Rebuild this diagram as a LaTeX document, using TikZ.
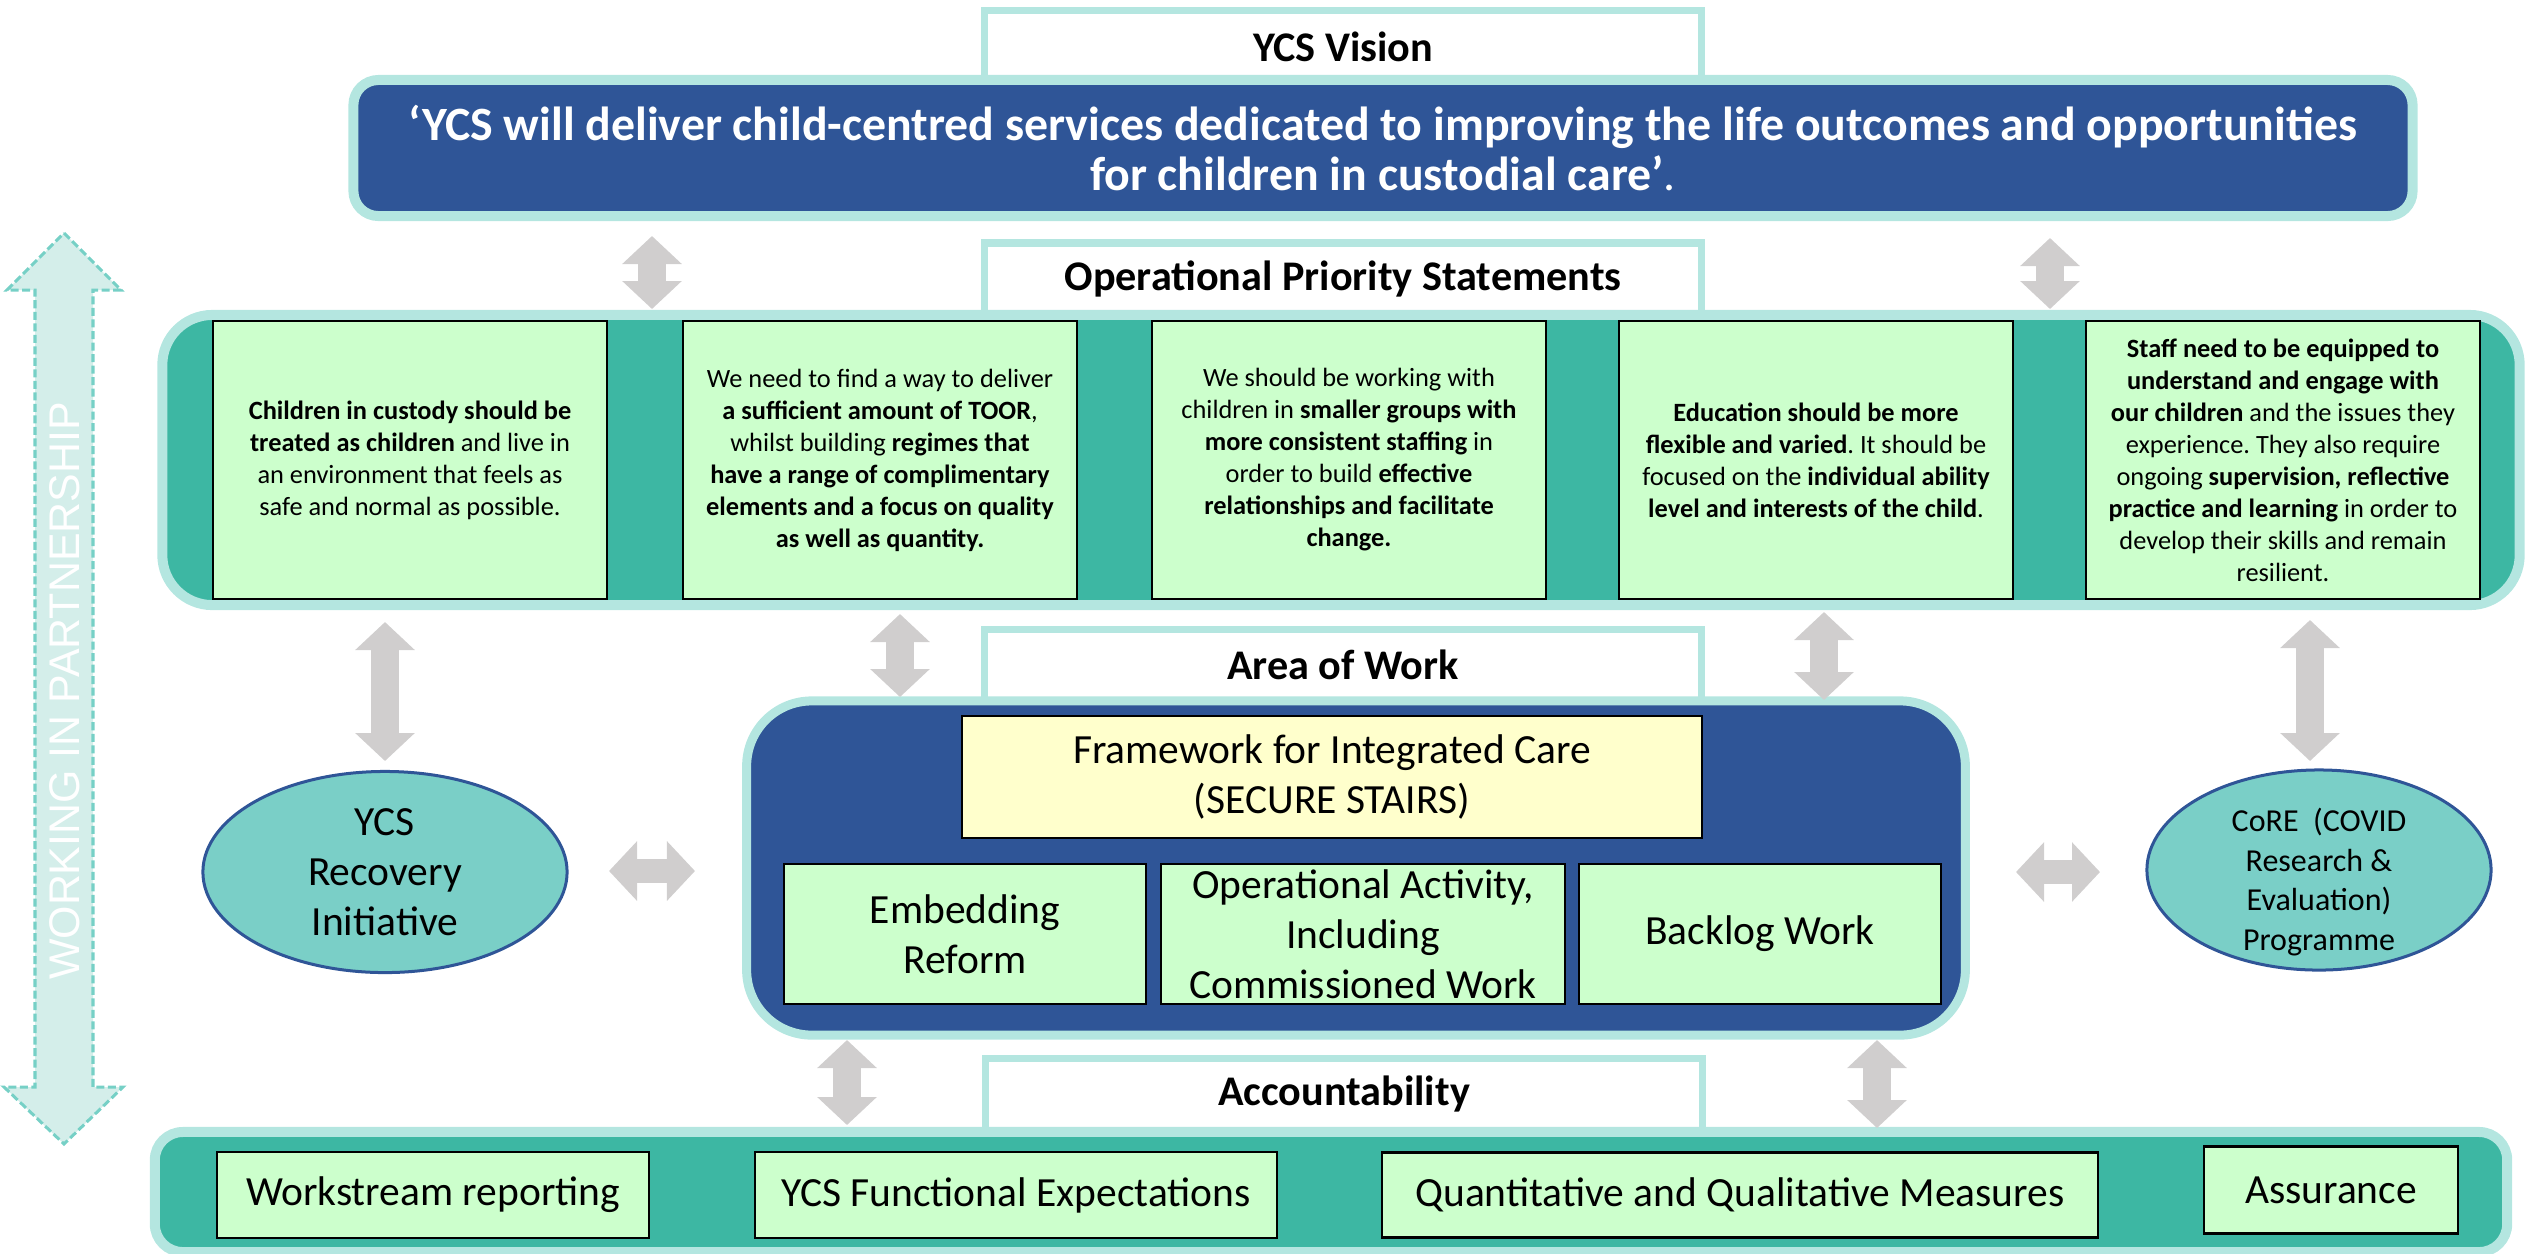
\documentclass[tikz,border=0pt]{standalone}
\usepackage{fontspec}
\setmainfont{Carlito}
\newfontfamily\partnerfont{Liberation Sans}
\usetikzlibrary{arrows.meta,shapes.geometric}
\frenchspacing

\definecolor{navy}{RGB}{47,85,151}
\definecolor{seag}{RGB}{61,183,163}
\definecolor{rimc}{RGB}{180,230,224}
\definecolor{mint}{RGB}{204,255,204}
\definecolor{cream}{RGB}{255,255,204}
\definecolor{lagoon}{RGB}{122,207,199}
\definecolor{greyarr}{RGB}{208,206,206}
\definecolor{pfill}{RGB}{212,238,234}
\definecolor{pline}{RGB}{118,208,198}

\begin{document}
\begin{tikzpicture}[x=0.01cm,y=-0.01cm,
    headbox/.style={draw=rimc,line width=0.7mm,fill=white,minimum width=7.17cm,minimum height=0.72cm,
        font=\bfseries\fontsize{12}{14}\selectfont},
    band/.style={draw=rimc,line width=1mm,inner sep=0pt},
    card/.style={draw=black,line width=0.6pt,fill=mint,inner sep=0pt,align=center},
    stmt/.style={card,minimum width=3.94cm,minimum height=2.77cm,font=\fontsize{7.5}{9.1}\selectfont},
    workbox/.style={card,font=\fontsize{11.8}{14.2}\selectfont},
    bubble/.style={ellipse,draw=navy,line width=0.03cm,fill=lagoon,inner sep=0pt,align=center},
    vlink/.style={draw=greyarr,line width=0.28cm,
        {Triangle[length=0.28cm,width=0.58cm]}-{Triangle[length=0.28cm,width=0.58cm]}},
    hlink/.style={vlink,line width=0.24cm}]
    \useasboundingbox (0,0) rectangle (2526,1253);
    %
    % working in partnership
    \draw[draw=pline,fill=pfill,line width=0.03cm,dash pattern=on 0.08cm off 0.035cm]
        (64,233) -- (121,290) -- (93,290) -- (93,1087) -- (123,1087) -- (64,1144)
        -- (4,1087) -- (35,1087) -- (35,290) -- (7,290) -- cycle;
    \node[rotate=90,text=white,font=\partnerfont\fontsize{12.2}{14}\selectfont] (partner) at (65,691) {WORKING IN PARTNERSHIP};
    %
    % vision
    \node[headbox] (hvision) at (1343,47) {YCS Vision};
    \node[band,fill=navy,rounded corners=0.25cm,minimum width=20.58cm,minimum height=1.36cm,
        text=white,align=center,font=\bfseries\fontsize{13.6}{14.3}\selectfont] (vision) at (1383,148)
        {‘YCS will deliver child-centred services dedicated to improving the life outcomes and opportunities\\
         for children in custodial care’\mdseries.};
    %
    % operational priority statements
    \node[headbox] (hops) at (1343,279) {Operational Priority Statements};
    \node[band,fill=seag,rounded corners=0.5cm,minimum width=23.56cm,minimum height=2.9cm] (opsband) at (1341,460) {};
    \node[stmt] (s1) at (410,460) {\textbf{Children in custody should be}\\
        \textbf{treated as children} and live in\\ an environment that feels as\\ safe and normal as possible.};
    \node[stmt] (s2) at (880,460) {We need to find a way to deliver\\ \textbf{a sufficient amount of TOOR},\\
        whilst building \textbf{regimes that}\\ \textbf{have a range of complimentary}\\
        \textbf{elements and a focus on quality}\\ \textbf{as well as quantity.}};
    \node[stmt] (s3) at (1349,460) {We should be working with\\ children in \textbf{smaller groups with}\\
        \textbf{more consistent staffing} in\\ order to build \textbf{effective}\\
        \textbf{relationships and facilitate}\\ \textbf{change.}};
    \node[stmt] (s4) at (1816,460) {\textbf{Education should be more}\\ \textbf{flexible and varied}. It should be\\
        focused on the \textbf{individual ability}\\ \textbf{level and interests of the child}.};
    \node[stmt] (s5) at (2283,460) {\textbf{Staff need to be equipped to}\\ \textbf{understand and engage with}\\
        \textbf{our children} and the issues they\\ experience. They also require\\
        ongoing \textbf{supervision, reflective}\\ \textbf{practice and learning} in order to\\
        develop their skills and remain\\ resilient.};
    %
    % area of work
    \node[headbox] (hwork) at (1343,665) {Area of Work};
    \node[band,line width=0.9mm,fill=navy,rounded corners=0.65cm,minimum width=12.18cm,minimum height=3.34cm] (workband) at (1356,868) {};
    \node[workbox,fill=cream,minimum width=7.39cm,minimum height=1.22cm] (fic) at (1332,777)
        {Framework for Integrated Care\\(SECURE STAIRS)};
    \node[workbox,minimum width=3.61cm,minimum height=1.4cm] (embed) at (965,934) {Embedding\\Reform};
    \node[workbox,minimum width=4.04cm,minimum height=1.4cm] (opact) at (1363,934)
        {Operational Activity,\\Including\\Commissioned Work};
    \node[workbox,minimum width=3.61cm,minimum height=1.4cm] (backlog) at (1760,934) {Backlog Work};
    %
    \node[bubble,minimum width=3.64cm,minimum height=2.01cm,font=\fontsize{11.8}{14.2}\selectfont] (recovery) at (385,872)
        {YCS\\Recovery\\Initiative};
    \node[bubble,minimum width=3.44cm,minimum height=2cm] (core) at (2319,870) {};
    \node[align=center,inner sep=0pt,font=\fontsize{9.1}{11.2}\selectfont] (coretext) at (2319,882)
        {CoRE\ \ (COVID\\Research \&\\Evaluation)\\Programme};
    %
    % accountability
    \node[headbox] (hacc) at (1344,1094) {Accountability};
    \node[band,fill=seag,rounded corners=0.28cm,minimum width=23.51cm,minimum height=1.2cm] (accband) at (1331,1192) {};
    \node[workbox,minimum width=4.32cm,minimum height=0.86cm] (report) at (433,1195) {Workstream reporting};
    \node[workbox,minimum width=5.22cm,minimum height=0.86cm] (expect) at (1016,1195) {YCS Functional Expectations};
    \node[workbox,minimum width=7.16cm,minimum height=0.85cm] (measure) at (1740,1195) {Quantitative and Qualitative Measures};
    \node[workbox,minimum width=2.54cm,minimum height=0.87cm] (assure) at (2331,1190) {Assurance};
    %
    % grey two-way arrows
    \coordinate (u1a) at (652,236);  \coordinate (u1b) at (652,309);
    \coordinate (u2a) at (2050,238); \coordinate (u2b) at (2050,309);
    \coordinate (u3a) at (385,622);  \coordinate (u3b) at (385,761);
    \coordinate (u4a) at (900,614);  \coordinate (u4b) at (900,697);
    \coordinate (u5a) at (1824,612); \coordinate (u5b) at (1824,700);
    \coordinate (u6a) at (2310,620); \coordinate (u6b) at (2310,761);
    \coordinate (u7a) at (847,1040); \coordinate (u7b) at (847,1125);
    \coordinate (u8a) at (1877,1040); \coordinate (u8b) at (1877,1128);
    \coordinate (w1a) at (609,871);  \coordinate (w1b) at (695,871);
    \coordinate (w2a) at (2016,872); \coordinate (w2b) at (2100,872);
    %
    \foreach \k in {1,...,8}
        \draw[vlink] (u\k a) -- (u\k b);
    \draw[hlink] (w1a) -- (w1b);
    \draw[hlink] (w2a) -- (w2b);
    %
\end{tikzpicture}
\end{document}
